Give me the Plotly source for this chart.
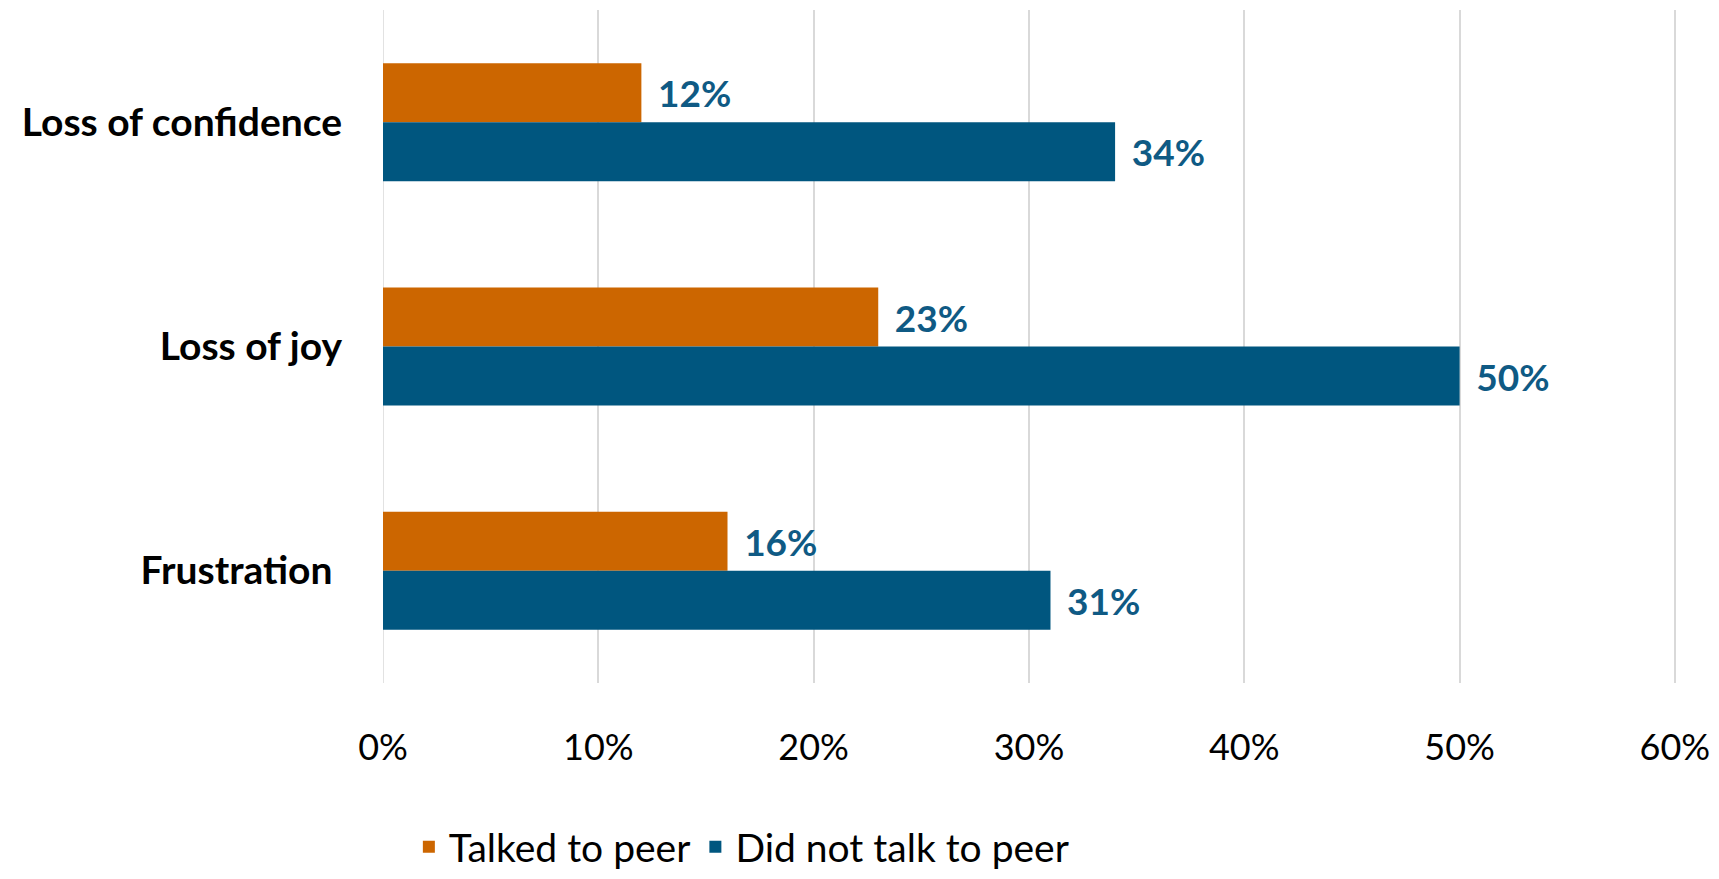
import plotly.graph_objects as go

categories = ["Loss of confidence", "Loss of joy", "Frustration "]
talked = [0.12, 0.23, 0.16]
not_talked = [0.34, 0.50, 0.31]
series_names = ["Talked to peer", "Did not talk to peer"]
tick_vals = [0, 0.1, 0.2, 0.3, 0.4, 0.5, 0.6]
tick_text = ["0%", "10%", "20%", "30%", "40%", "50%", "60%"]

ORANGE = "#CC6600"
BLUE = "#00567F"
LABEL = "#0F5A84"
FONT = "Lato"

fig = go.Figure()
for name, vals, col in [(series_names[0], talked, ORANGE), (series_names[1], not_talked, BLUE)]:
    fig.add_trace(go.Bar(
        y=categories, x=vals, name=name, orientation="h",
        marker=dict(color=col, line=dict(width=0)),
        text=[f"{round(v*100)}%" for v in vals],
        texttemplate=" \u2009%{text}",
        textposition="outside", cliponaxis=False,
        textfont=dict(family=FONT, size=37, color=LABEL, weight="bold"),
    ))

fig.update_layout(
    width=1703, height=863,
    margin=dict(l=375, r=35, t=2, b=188, autoexpand=False),
    plot_bgcolor="white", paper_bgcolor="white",
    barmode="group", bargap=0.474, bargroupgap=0,
    font=dict(family=FONT, color="black"),
    showlegend=True,
    legend=dict(orientation="h", x=0.02, xanchor="left", y=-0.2437, yanchor="middle",
                font=dict(family=FONT, size=39, color="black"),
                itemsizing="constant", traceorder="normal"),
    xaxis=dict(range=[0, 0.6005], tickvals=tick_vals, ticktext=tick_text,
               showgrid=True, gridcolor="#D9D9D9", gridwidth=1.5,
               zeroline=False, showline=False, ticks="", automargin=False,
               ticklabelstandoff=40, ticklabeloverflow="allow",
               tickfont=dict(family=FONT, size=36, color="black")),
    yaxis=dict(autorange="reversed", showgrid=False, zeroline=False, showline=False,
               ticks="", ticklabelstandoff=40, automargin=False,
               tickfont=dict(family=FONT, size=39, color="black", weight="bold")),
)
fig.add_vline(x=0, line=dict(color="#D9D9D9", width=1.5), layer="below")

fig.write_html("out.html")
